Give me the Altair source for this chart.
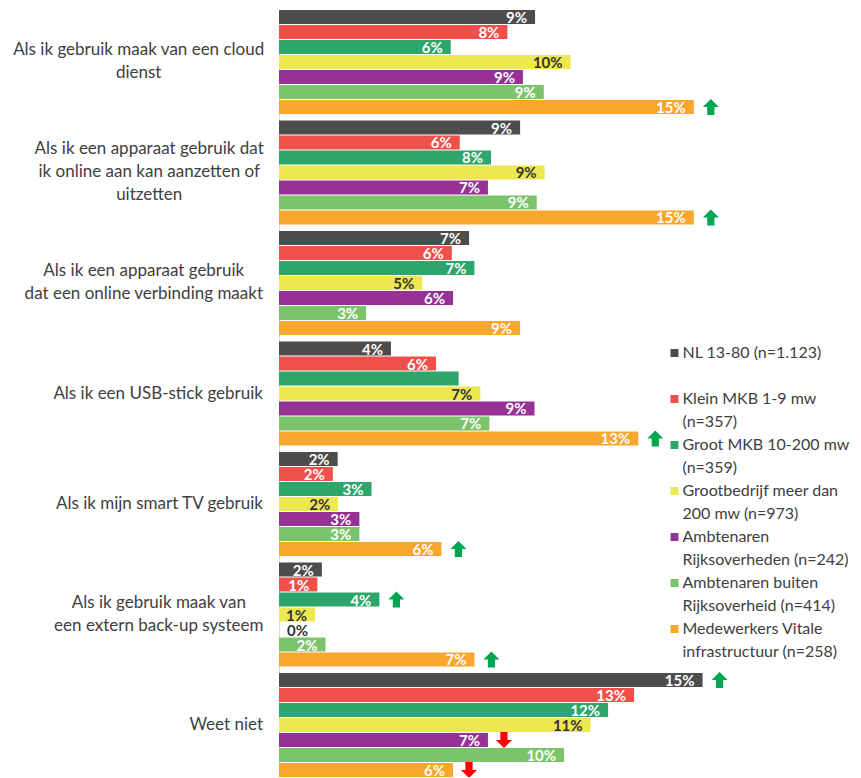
import altair as alt
import pandas as pd

# Survey answers (rows of the chart)
categories = [
    "Als ik gebruik maak van een cloud\ndienst",
    "Als ik een apparaat gebruik dat\nik online aan kan aanzetten of\nuitzetten",
    "Als ik een apparaat gebruik\ndat een online verbinding maakt",
    "Als ik een USB-stick gebruik",
    "Als ik mijn smart TV gebruik",
    "Als ik gebruik maak van\neen extern back-up systeem",
    "Weet niet",
]

# Respondent groups (legend entries)
series = [
    "NL 13-80  (n=1.123)",
    "Klein MKB 1-9 mw\n(n=357)",
    "Groot MKB 10-200 mw\n(n=359)",
    "Grootbedrijf meer dan\n200 mw  (n=973)",
    "Ambtenaren\nRijksoverheden  (n=242)",
    "Ambtenaren buiten\nRijksoverheid  (n=414)",
    "Medewerkers Vitale\ninfrastructuur  (n=258)",
]
colors = ["#4d4d4d", "#f0504a", "#2ea66b", "#ede84f", "#963296", "#7cc46b", "#f9a62e"]

# Percentages per group, in the order of `categories`
nl = [9.08, 8.55, 6.74, 3.97, 2.08, 1.52, 15.02]
klein_mkb = [8.10, 6.41, 6.13, 5.57, 1.91, 1.36, 12.59]
groot_mkb = [6.09, 7.52, 6.93, 6.37, 3.28, 3.56, 11.67]
grootbedrijf = [10.34, 9.42, 5.08, 7.14, 2.10, 1.28, 11.05]
ambt_rijk = [8.65, 7.41, 6.17, 9.06, 2.85, 0.0, 7.41]
ambt_buiten = [9.39, 9.14, 3.09, 7.46, 2.85, 1.65, 10.11]
vitaal = [14.71, 14.71, 8.55, 12.74, 5.76, 6.93, 6.17]
values = [nl, klein_mkb, groot_mkb, grootbedrijf, ambt_rijk, ambt_buiten, vitaal]

# Significant differences: (category index, group index)
sig_up = [(0, 6), (1, 6), (3, 6), (4, 6), (5, 2), (5, 6), (6, 0)]
sig_down = [(6, 4), (6, 6)]
# bars drawn without a value label
unlabelled = [(3, 2)]

rows = []
for si, s in enumerate(series):
    for ci, c in enumerate(categories):
        direction = "up" if (ci, si) in sig_up else ("down" if (ci, si) in sig_down else "")
        rows.append({"cat": c, "grp": s, "pct": values[si][ci],
                     "show": (ci, si) not in unlabelled, "sig": direction})
df = pd.DataFrame(rows)

# rough Lato advance widths (em) for centring wrapped category labels
_w = {" ": .19, "a": .51, "b": .56, "c": .46, "d": .56, "e": .52, "f": .32, "g": .50,
      "h": .56, "i": .23, "j": .23, "k": .49, "l": .23, "m": .84, "n": .56, "o": .56,
      "p": .56, "r": .36, "s": .42, "t": .34, "u": .56, "v": .50, "w": .77, "x": .48,
      "y": .50, "z": .45, "A": .67, "B": .63, "S": .53, "T": .58, "U": .71, "V": .67,
      "W": 1.0, "-": .33}


def text_width(line, size=17.4):
    return sum(_w.get(ch, .55) for ch in line) * size


LABEL_GAP = 16
LINE_H = 23
cat_df = pd.DataFrame({
    "cat": categories,
    "lx": [-LABEL_GAP - max(text_width(l) for l in c.split("\n")) / 2 for c in categories],
    "nlines": [len(c.split("\n")) for c in categories],
})

UP = "M0,-1L1,0L0.45,0L0.45,1L-0.45,1L-0.45,0L-1,0Z"
DOWN = "M0,1L1,0L0.45,0L0.45,-1L-0.45,-1L-0.45,0L-1,0Z"

y_enc = alt.Y("cat:N", sort=categories,
              scale=alt.Scale(paddingInner=0.06, paddingOuter=0),
              axis=alt.Axis(labels=False, ticks=False, title=None,
                            domainColor="#d9d9d9", domainWidth=1))
yoff = alt.YOffset("grp:N", sort=series,
                   scale=alt.Scale(paddingInner=0.067, paddingOuter=0))
x_enc = alt.X("pct:Q", scale=alt.Scale(domain=[0, 20], nice=False, zero=True), axis=None)

base = alt.Chart(df)

bars = base.mark_bar().encode(
    x=x_enc, y=y_enc, yOffset=yoff,
    color=alt.Color(
        "grp:N", sort=series,
        scale=alt.Scale(domain=series, range=colors),
        legend=alt.Legend(
            title=None, orient="none", legendX=387.5, legendY=335,
            labelExpr="indexof(datum.label, '\\n') < 0 ? [datum.label, ''] : split(datum.label, '\\n')",
            labelFont="Lato", labelFontSize=16, labelColor="#404040", labelLimit=250,
            symbolType="square", symbolSize=64, symbolStrokeWidth=0,
            labelOffset=0, rowPadding=7, padding=0,
        ),
    ),
)

value_labels = base.transform_filter(
    "datum.show && datum.pct > 0"
).transform_calculate(
    txt="format(datum.pct, '.0f') + '%'"
).mark_text(
    align="right", baseline="middle", dx=-8, dy=1,
    font="Lato", fontSize=15, fontWeight="bold",
).encode(
    x=x_enc, y=y_enc, yOffset=yoff, text="txt:N",
    color=alt.condition(alt.datum.grp == series[3], alt.value("#333333"), alt.value("white")),
)

zero_labels = base.transform_filter(
    "datum.show && datum.pct == 0"
).transform_calculate(
    txt="format(datum.pct, '.0f') + '%'"
).mark_text(
    align="left", baseline="middle", dx=8, dy=1,
    font="Lato", fontSize=15, fontWeight="bold", color="#333333",
).encode(x=x_enc, y=y_enc, yOffset=yoff, text="txt:N")

arrows_up = base.transform_filter("datum.sig == 'up'").mark_point(
    shape=UP, filled=True, size=256, color="#00a650", opacity=1, strokeWidth=0, xOffset=17,
).encode(x=x_enc, y=y_enc, yOffset=yoff)

arrows_down = base.transform_filter("datum.sig == 'down'").mark_point(
    shape=DOWN, filled=True, size=256, color="#ff0000", opacity=1, strokeWidth=0, xOffset=16,
).encode(x=x_enc, y=y_enc, yOffset=yoff)

cat_base = alt.Chart(cat_df)
cat_single = cat_base.transform_filter("datum.nlines == 1").mark_text(
    align="right", baseline="middle", font="Lato", fontSize=17, color="#404040",
).encode(x=alt.value(-LABEL_GAP), y=y_enc, text="cat:N")

# wrapped labels: lines centred on each other, block centred on its band
cat_wrapped = [
    cat_base.transform_filter(f"datum.nlines == {n}").mark_text(
        align="center", baseline="middle", font="Lato", fontSize=17, color="#404040",
        lineBreak="\n", lineHeight=LINE_H, dy=-(n - 1) * LINE_H / 2,
    ).encode(x=alt.X("lx:Q", scale=None, axis=None), y=y_enc, text="cat:N")
    for n in (2, 3)
]

chart = alt.layer(
    bars, value_labels, zero_labels, arrows_up, arrows_down, cat_single, *cat_wrapped
).resolve_scale(
    x="independent"
).properties(
    width=564, height=767,
    padding={"left": 279, "top": 10, "right": 18, "bottom": 0},
    autosize=alt.AutoSizeParams(type="none"),
).configure(
    font="Lato",
    style={"guide-label": {"lineHeight": LINE_H}},
).configure_view(stroke=None)

chart.save("out.html", embed_options={"renderer": "svg", "actions": False})
